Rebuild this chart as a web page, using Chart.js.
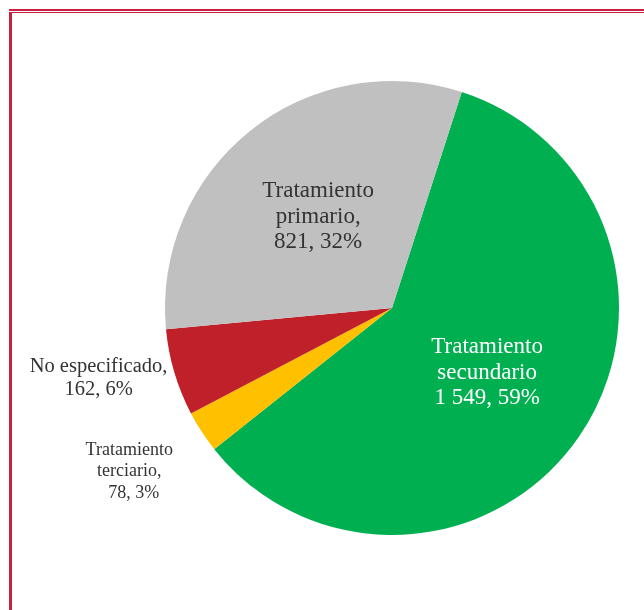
<!DOCTYPE html>
<html>
<head>
<meta charset="utf-8">
<script src="https://cdn.jsdelivr.net/npm/chart.js@4"></script>
<style>
    html, body { margin: 0; padding: 0; background: #fff; }
    #wrap { position: relative; width: 644px; height: 610px; overflow: hidden; }
    .frame-top { position: absolute; left: 9px; right: 0; top: 9px; height: 2px; background: #c8203f; }
    .frame-top2 { position: absolute; left: 9px; right: 0; top: 12px; height: 1px; background: #c8203f; }
    .frame-left { position: absolute; left: 9px; top: 12px; bottom: 0; width: 3px; background: #c8203f; }
    canvas { position: absolute; left: 0; top: 0; }
</style>
</head>
<body>
<div id="wrap">
    <canvas id="pie" width="644" height="610"></canvas>
    <div class="frame-top"></div>
    <div class="frame-top2"></div>
    <div class="frame-left"></div>
</div>
<script>
const categories = ['Tratamiento secundario', 'Tratamiento terciario', 'No especificado', 'Tratamiento primario'];
const values = [1549, 78, 162, 821];
const percents = ['59%', '3%', '6%', '32%'];
const colors = ['#00b050', '#ffc000', '#c0202a', '#c0c0c0'];

// label text lines, built from the data above
const labelLines = [
    ['Tratamiento', 'secundario', '1 549, ' + percents[0]],
    ['Tratamiento', 'terciario,', '  ' + values[1] + ', ' + percents[1]],
    ['No especificado,', values[2] + ', ' + percents[2]],
    ['Tratamiento', 'primario,', values[3] + ', ' + percents[3]]
];

// placement: radial factor, font size, line height, colour, nudge
const labelStyle = [
    { f: 0.51, size: 23, lh: 25.5, color: '#ffffff', dx: 0, dy: -1 },
    { f: 1.36, size: 18, lh: 21.5, color: '#333333', dx: -4, dy: -5 },
    { f: 1.33, size: 20.5, lh: 23.5, color: '#333333', dx: -4, dy: -15.5 },
    { f: 0.52, size: 23, lh: 25.5, color: '#333333', dx: 0, dy: 1 }
];

const labelPlugin = {
    id: 'sliceLabels',
    afterDatasetsDraw(chart) {
        const ctx = chart.ctx;
        const meta = chart.getDatasetMeta(0);
        meta.data.forEach((arc, i) => {
            const p = arc.getProps(['x', 'y', 'startAngle', 'endAngle', 'outerRadius'], true);
            const mid = (p.startAngle + p.endAngle) / 2;
            const s = labelStyle[i];
            const cx = p.x + Math.cos(mid) * p.outerRadius * s.f + s.dx;
            const cy = p.y + Math.sin(mid) * p.outerRadius * s.f + s.dy;
            const lines = labelLines[i];
            ctx.save();
            ctx.font = s.size + 'px "Liberation Serif", "DejaVu Serif", serif';
            ctx.fillStyle = s.color;
            ctx.textAlign = 'center';
            ctx.textBaseline = 'middle';
            const top = cy - (lines.length - 1) * s.lh / 2;
            lines.forEach((t, k) => ctx.fillText(t, cx, top + k * s.lh));
            ctx.restore();
        });
    }
};

new Chart(document.getElementById('pie'), {
    type: 'pie',
    data: {
        labels: categories,
        datasets: [{
            data: values,
            backgroundColor: colors,
            borderWidth: 0,
            hoverOffset: 0
        }]
    },
    options: {
        responsive: false,
        animation: false,
        rotation: 17.9,
        layout: { padding: { left: 165, right: 25, top: 81, bottom: 75 } },
        plugins: {
            legend: { display: false },
            tooltip: { enabled: false }
        }
    },
    plugins: [labelPlugin]
});
</script>
</body>
</html>
